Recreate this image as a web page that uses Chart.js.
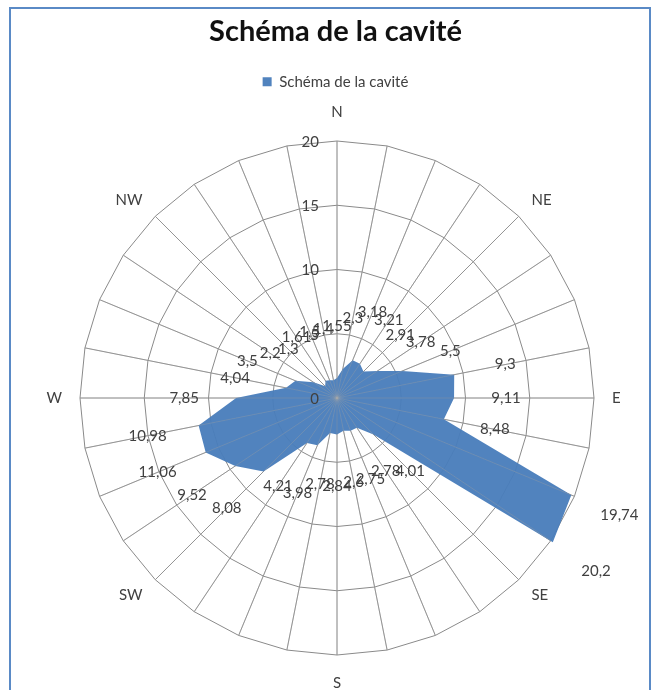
<!DOCTYPE html>
<html>
<head>
<meta charset="utf-8">
<script src="https://cdn.jsdelivr.net/npm/chart.js@4/dist/chart.umd.min.js"></script>
<style>
  html, body { margin: 0; padding: 0; background: #ffffff; width: 659px; height: 690px; overflow: hidden; }
  #frame { position: absolute; left: 9px; top: 7px; width: 642px; height: 700px; border: 2px solid #5a8ac6; box-sizing: border-box; }
  #c { position: absolute; left: 0; top: 0; }
</style>
</head>
<body>
<div id="frame"></div>
<canvas id="c" width="659" height="690"></canvas>
<script>
// ---- Data (32 directions, clockwise from North) ----
const directionLabels = [
  'N', '', '', '', 'NE', '', '', '',
  'E', '', '', '', 'SE', '', '', '',
  'S', '', '', '', 'SW', '', '', '',
  'W', '', '', '', 'NW', '', '', ''
];
const cavityValues = [
  1.55, 2.3, 3.18, 3.21, 2.91, 3.78, 5.5, 9.3,
  9.11, 8.48, 19.74, 20.2, 4.01, 2.78, 2.75, 2.6,
  2.84, 2.78, 3.98, 4.21, 8.08, 9.52, 11.06, 10.98,
  7.85, 4.04, 3.5, 2.2, 1.3, 1.61, 1.5, 1.4
];
const tickValues = [0, 5, 10, 15, 20];
const seriesName = 'Schéma de la cavité';
const chartTitle = 'Schéma de la cavité';

const FONT = 'Lato';
const TEXT = '#404040';

// faint gridlines over the filled area (as in the original)
const overlayGridPlugin = {
  id: 'overlayGrid',
  afterDatasetsDraw(chart) {
    const s = chart.scales.r, ctx = chart.ctx;
    ctx.save();
    ctx.strokeStyle = 'rgba(170,170,170,0.35)';
    ctx.lineWidth = 1;
    for (let i = 0; i < directionLabels.length; i++) {
      const p = s.getPointPosition(i, s.drawingArea);
      ctx.beginPath();
      ctx.moveTo(s.xCenter, s.yCenter);
      ctx.lineTo(p.x, p.y);
      ctx.stroke();
    }
    ctx.restore();
  }
};

const tickLabelPlugin = {
  id: 'tickLabels',
  afterDatasetsDraw(chart) {
    const s = chart.scales.r, ctx = chart.ctx;
    ctx.save();
    ctx.font = '15px ' + FONT;
    ctx.fillStyle = TEXT;
    ctx.textAlign = 'right';
    ctx.textBaseline = 'middle';
    tickValues.forEach(v => {
      const d = s.getDistanceFromCenterForValue(v);
      ctx.fillText(String(v), s.xCenter - 18, s.yCenter - d + 1);
    });
    ctx.restore();
  }
};

const dataLabelPlugin = {
  id: 'dataLabels',
  afterDatasetsDraw(chart) {
    const s = chart.scales.r, ctx = chart.ctx;
    const vals = chart.data.datasets[0].data;
    ctx.save();
    ctx.font = '15px ' + FONT;
    ctx.fillStyle = TEXT;
    ctx.textAlign = 'center';
    ctx.textBaseline = 'middle';
    vals.forEach((v, i) => {
      const p = s.getPointPosition(i, s.getDistanceFromCenterForValue(v) + 52);
      ctx.fillText(String(v).replace('.', ','), p.x, p.y);
    });
    ctx.restore();
  }
};

// point-label box sizes per direction (N, S, diagonal, others)
function plLineHeight(i) {
  if (i === 0) return 17.4 / 15;
  if (i === 16) return 4 / 15;
  if (i % 4 === 0 && i % 8 !== 0) return 0.4;
  return 0.6;
}
function plPadding(i) {
  if (i === 0) return 20.3;
  if (i === 16) return 26;
  return 18;
}

new Chart(document.getElementById('c'), {
  type: 'radar',
  data: {
    labels: directionLabels,
    datasets: [{
      label: seriesName,
      data: cavityValues,
      backgroundColor: 'rgba(74,126,187,0.96)',
      borderColor: 'rgba(74,126,187,0.96)',
      borderWidth: 0,
      fill: true,
      pointRadius: 0,
      pointHoverRadius: 0
    }]
  },
  options: {
    responsive: false,
    animation: false,
    layout: { padding: { left: 12, right: 0, top: 0, bottom: 0 } },
    plugins: {
      title: {
        display: true,
        text: chartTitle,
        color: '#111111',
        font: { family: FONT, size: 29, weight: 'bold' },
        padding: { top: 14.5, bottom: 5 }
      },
      legend: {
        display: true,
        labels: {
          color: TEXT,
          font: { family: FONT, size: 15 },
          boxWidth: 9,
          boxHeight: 9,
          padding: 20
        }
      },
      tooltip: { enabled: false }
    },
    scales: {
      r: {
        min: 0,
        max: 20,
        ticks: { stepSize: 5, display: false },
        grid: { color: '#8a8a8a', lineWidth: 1, circular: false },
        angleLines: { color: '#8a8a8a', lineWidth: 1 },
        pointLabels: {
          color: TEXT,
          font: (ctx) => ({ family: FONT, size: 15, lineHeight: plLineHeight(ctx.index) }),
          padding: (ctx) => plPadding(ctx.index)
        }
      }
    }
  },
  plugins: [overlayGridPlugin, tickLabelPlugin, dataLabelPlugin]
});
</script>
</body>
</html>
